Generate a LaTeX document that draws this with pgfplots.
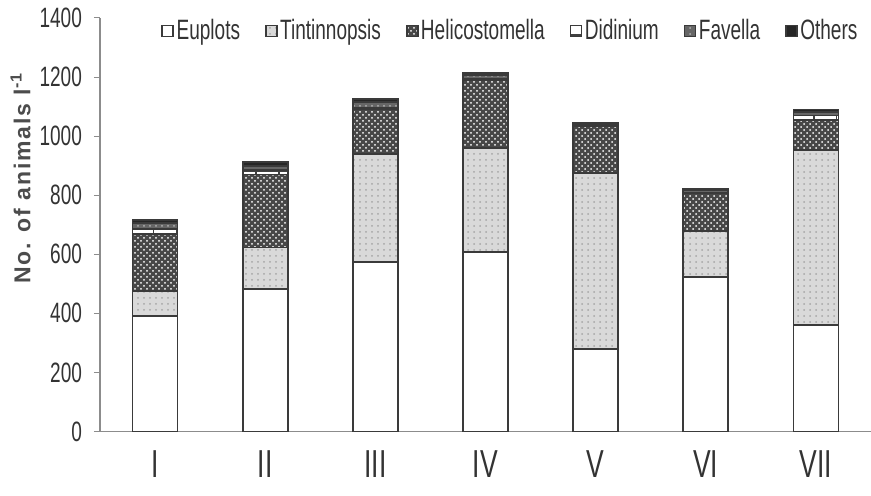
\documentclass[border=0pt]{standalone}
\usepackage{pgfplots}
\pgfplotsset{compat=1.18}
\usepackage{pgfplotstable}
\usetikzlibrary{patterns}
\usepackage{fontspec}
\setmainfont{Liberation Sans}[FakeStretch=0.68]
\newfontfamily\labelfont{Liberation Sans}[LetterSpace=8]
\definecolor{txt}{HTML}{333333}
\definecolor{edge}{HTML}{3A3A3A}

\pgfplotstableread{
x eup tin hel did fav oth
0 391 86 193 15 20 10
1 483 140 247 15 15 12
2 575 364 151 5 20 10
3 609 352 229 5 12 8
4 280 596 157 3 5 4
5 522 157 127 3 8 5
6 360 593 102 15 12 8
}\data

\pgfplotsset{
  lg/.style={draw=edge, line width=0.9pt, legend image code/.code={\draw[##1] (0pt,-2.75pt) rectangle (5.5pt,2.75pt);}},
}

\begin{document}
\begin{tikzpicture}
\useasboundingbox (-50pt,-32.25pt) rectangle (385.5pt,215.75pt);
\begin{axis}[
  at={(0,0)}, anchor=south west,
  scale only axis,
  width=385.5pt, height=206.75pt,
  ybar stacked,
  bar width=22.5pt,
  xmin=-0.5, xmax=6.5,
  ymin=0, ymax=1400,
  ytick={0,200,...,1400},
  xtick=data,
  xticklabels={I,II,III,IV,V,VI,VII},
  axis x line*=bottom, axis y line*=left,
  axis line style={black!45, line width=0.6pt},
  tick align=outside,
  ytick style={black!45, line width=0.5pt},
  major tick length=3pt,
  xtick style={draw=none},
  extra x ticks={0.5,1.5,2.5,3.5,4.5,5.5},
  extra x tick labels={},
  extra x tick style={major tick length=5pt, tick style={draw=black!45, line width=0.5pt}},
  /pgf/number format/assume math mode=true,
  /pgf/number format/1000 sep={},
  yticklabel style={font=\fontsize{14}{16}\selectfont, text=txt, xshift=-2.5pt},
  xticklabel style={font=\fontsize{19.5}{22}\selectfont, text=txt, yshift=-3pt},
  ylabel={No. of animals l\textsuperscript{-1}},
  ylabel style={at={(axis description cs:-0.103,0.613)}, anchor=center,
    font=\labelfont\bfseries\fontsize{11.5}{13}\selectfont, text=black!70},
  legend style={at={(axis description cs:0.986,0.9686)}, anchor=east,
    legend columns=-1, draw=none, fill=none, inner sep=0pt,
    font=\fontsize{14}{16}\selectfont, text=txt,
    nodes={inner sep=1.2pt},
    /tikz/every even column/.append style={column sep=11.2pt}},
]
\addplot[lg, fill=white] table[x=x,y=eup]{\data};
\addplot[lg, fill=black!15, postaction={pattern=dots, pattern color=black!35}] table[x=x,y=tin]{\data};
\addplot[lg, fill=black!72, postaction={pattern=crosshatch dots, pattern color=white}] table[x=x,y=hel]{\data};
\addplot[lg, fill=white, postaction={pattern=bricks, pattern color=black!75}] table[x=x,y=did]{\data};
\addplot[lg, fill=black!60, postaction={pattern=dots, pattern color=black!30}] table[x=x,y=fav]{\data};
\addplot[lg, fill=black!85] table[x=x,y=oth]{\data};
\legend{Euplots,Tintinnopsis,Helicostomella,Didinium,Favella,Others}
\end{axis}
\end{tikzpicture}
\end{document}
